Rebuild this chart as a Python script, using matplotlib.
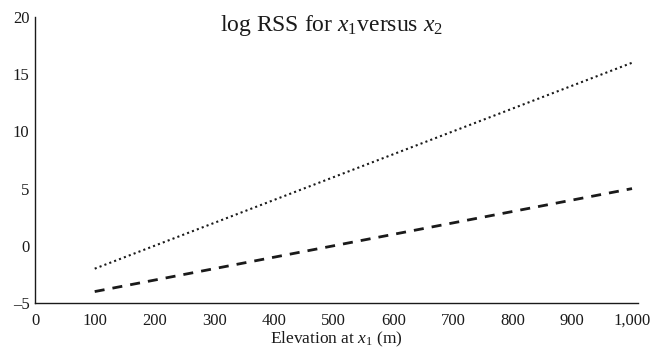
import matplotlib
matplotlib.use("Agg")
import matplotlib.pyplot as plt

plt.rcParams['font.family'] = ['Liberation Serif', 'DejaVu Serif']
plt.rcParams['mathtext.fontset'] = 'custom'
plt.rcParams['mathtext.rm'] = 'Liberation Serif'
plt.rcParams['mathtext.it'] = 'Liberation Serif:italic'

# data
elevation = [100, 1000]
rss_dotted = [-2, 16]
rss_dashed = [-4, 5]
x_ticks = [0, 100, 200, 300, 400, 500, 600, 700, 800, 900, 1000]
x_tick_labels = ['0', '100', '200', '300', '400', '500', '600', '700', '800', '900', '1,000']
y_ticks = [-5, 0, 5, 10, 15, 20]
y_tick_labels = ['\u20135', '0', '5', '10', '15', '20']

fig = plt.figure(figsize=(6.62, 3.49), dpi=100)
ax = fig.add_axes([35 / 662, 46 / 349, 603 / 662, 286 / 349])

ax.plot(elevation, rss_dotted, color='#1a1a1a', linewidth=1.5,
        dashes=(1, 1.5), dash_capstyle='butt')
ax.plot(elevation, rss_dashed, color='#1a1a1a', linewidth=2.0,
        dashes=(3.6, 2.9), dash_capstyle='butt')

ax.set_xlim(0, 1010)
ax.set_ylim(-5, 20)
ax.set_xticks(x_ticks)
ax.set_xticklabels(x_tick_labels)
ax.set_yticks(y_ticks)
ax.set_yticklabels(y_tick_labels)
ax.tick_params(axis='both', length=0, labelsize=12, colors='#1a1a1a')
ax.tick_params(axis='x', pad=7)
ax.tick_params(axis='y', pad=4)

for side in ['top', 'right']:
    ax.spines[side].set_visible(False)
for side in ['left', 'bottom']:
    ax.spines[side].set_linewidth(1.0)
    ax.spines[side].set_color('#1a1a1a')

ax.set_xlabel('Elevation at $x_1$ (m)', fontsize=12.5, color='#1a1a1a', labelpad=1)

fig.text(331 / 662, 1 - 26 / 349, 'log RSS for $x_1$versus $x_2$',
         ha='center', va='center', fontsize=17, color='#1a1a1a')

fig.savefig('out.png', dpi=100)
